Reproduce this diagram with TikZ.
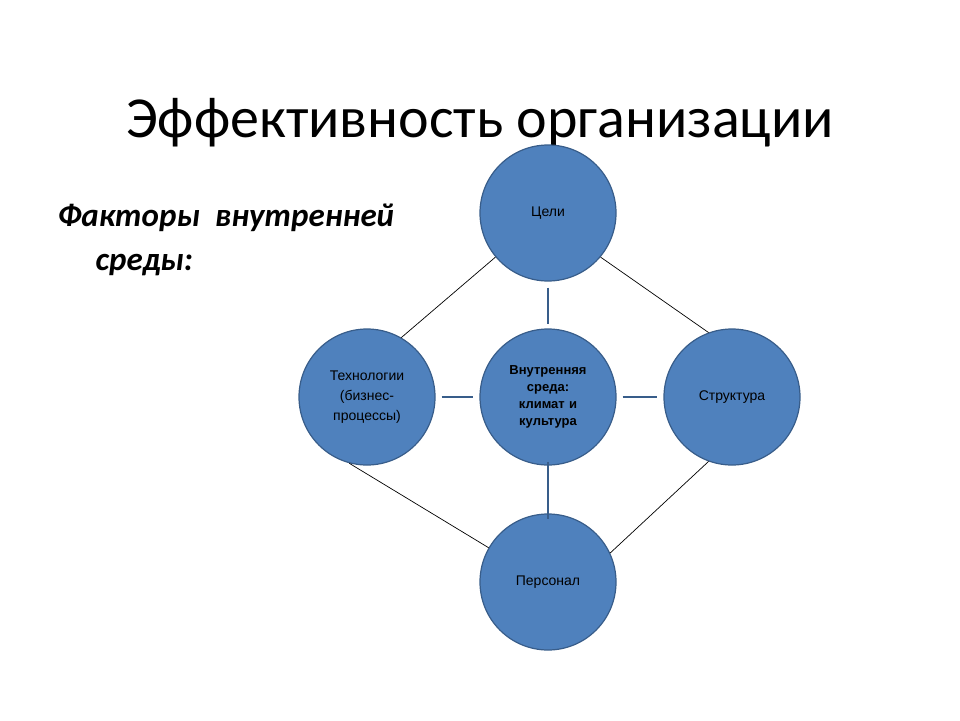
\documentclass[tikz,border=0pt]{standalone}
\usepackage{fontspec}
\setmainfont{Carlito}
\newfontfamily\arialfont{Liberation Sans}
\definecolor{fillblue}{HTML}{4F81BD}
\definecolor{edgeblue}{HTML}{385D8A}
\tikzset{
    every node/.style={font=\arialfont\fontsize{14}{20}\selectfont, align=center}
}
\tikzset{
    factor/.style={circle, fill=fillblue, draw=edgeblue, line width=1.2pt,
    	minimum size=136pt, inner sep=2pt, text width=110pt}
}
\tikzset{
    link/.style={edgeblue, line width=2.5pt},
    thin link/.style={black, line width=0.7pt}
}

\begin{document}
\begin{tikzpicture}[x=1pt, y=-1pt]
	\useasboundingbox (0,0) rectangle (960,720);
	\node (title) [font=\fontsize{58}{66}\selectfont] at (480,123) {Эффективность организации};
	\node (sub) [font=\fontsize{33}{44}\selectfont\bfseries\itshape, align=left, anchor=north west] at (54,200) {Факторы\ \ внутренней\\\hspace*{38pt}среды:};

	\node (goals) [factor] at (548,213) {Цели\\[12pt]};
	\node (tech) [factor] at (367,397) {Технологии\\(бизнес-\\процессы)};
	\node (core) [factor, font=\arialfont\fontsize{13}{17}\selectfont\bfseries] at (548,397) {Внутренняя\\среда:\\климат и\\культура};
	\node (struct) [factor] at (732,397) {Структура};
	\node (staff) [factor] at (548,582) {Персонал};

	\draw[link] ([yshift=-6pt]goals.south) -- ([yshift=4pt]core.north);
	\draw[link] ([yshift=4pt]core.south) -- ([yshift=-6pt]staff.north);
	\draw[link] ([xshift=6pt]tech.east) -- ([xshift=-6pt]core.west);
	\draw[link] ([xshift=6pt]core.east) -- ([xshift=-6pt]struct.west);

	\draw[thin link] (goals.-140) -- (tech.60);
	\draw[thin link] (goals.-40) -- (struct.110);
	\draw[thin link] (tech.-105) -- (staff.150);
	\draw[thin link] (staff.25) -- (struct.-110);
\end{tikzpicture}
\end{document}
